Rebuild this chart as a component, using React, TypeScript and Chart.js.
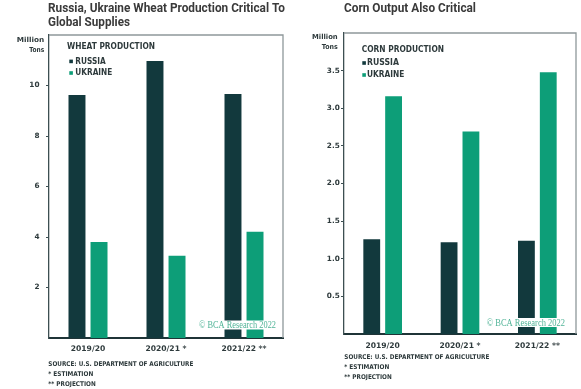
import React, { useEffect, useRef } from "react";
import { Chart, registerables } from "chart.js";

Chart.register(...registerables);

const categories = ["2019/20", "2020/21 *", "2021/22 **"];
const wheatRussia = [9.62, 10.97, 9.66];
const wheatUkraine = [3.8, 3.26, 4.21];
const cornRussia = [1.26, 1.22, 1.24];
const cornUkraine = [3.16, 2.69, 3.48];
const seriesNames = ["RUSSIA", "UKRAINE"];
const sourceLines = ["SOURCE: U.S. DEPARTMENT OF AGRICULTURE", "* ESTIMATION", "** PROJECTION"];
const watermark = "© BCA Research 2022";

const RUSSIA = "#12393d";
const UKRAINE = "#0d9e78";
const TEXT = "#2e3a3c";
const SANS = "'DejaVu Sans'";

type TextItem = { s: string; x: number; y: number; w: number; font: string; color: string; align?: "left" | "right" };

function fitText(ctx: CanvasRenderingContext2D, it: TextItem) {
  ctx.save();
  ctx.font = it.font;
  ctx.fillStyle = it.color;
  ctx.textBaseline = "alphabetic";
  ctx.textAlign = "left";
  const m = ctx.measureText(it.s).width;
  const k = it.w / m;
  const x0 = it.align === "right" ? it.x - it.w : it.x;
  ctx.translate(x0, it.y);
  ctx.scale(k, 1);
  ctx.fillText(it.s, 0, 0);
  ctx.restore();
}

type Deco = {
  texts: TextItem[];
  markers: { x: number; y: number; c: string }[];
  wm: { x: number; y: number; w: number; box: [number, number, number, number] };
};

function makePlugin(d: Deco) {
  return {
    id: "deco",
    afterDatasetsDraw(chart: any) {
      const ctx = chart.ctx as CanvasRenderingContext2D;
      const a = chart.chartArea;
      ctx.save();
      ctx.fillStyle = "#ffffff";
      ctx.fillRect(d.wm.box[0], d.wm.box[1], d.wm.box[2], d.wm.box[3]);
      ctx.restore();
      fitText(ctx, { s: watermark, x: d.wm.x, y: d.wm.y, w: d.wm.w, font: "9.5px 'Liberation Serif'", color: "#4fb396" });
      ctx.save();
      ctx.strokeStyle = "#8e989a";
      ctx.lineWidth = 1.3;
      ctx.beginPath();
      ctx.moveTo(a.left, a.top);
      ctx.lineTo(a.right, a.top);
      ctx.lineTo(a.right, a.bottom);
      ctx.stroke();
      ctx.restore();
    },
    afterDraw(chart: any) {
      const ctx = chart.ctx as CanvasRenderingContext2D;
      d.texts.forEach((t) => fitText(ctx, t));
      d.markers.forEach((m) => {
        ctx.fillStyle = m.c;
        ctx.fillRect(m.x, m.y, 3.6, 3.6);
      });
    },
  };
}

function makeChart(
  canvas: HTMLCanvasElement,
  russia: number[],
  ukraine: number[],
  max: number,
  step: number,
  decimals: number,
  pad: { left: number; right: number; top: number; bottom: number },
  yLabelPad: number,
  xLabelPad: number,
  deco: Deco
) {
  return new Chart(canvas, {
    type: "bar",
    data: {
      labels: categories,
      datasets: [
        { label: seriesNames[0], data: russia, backgroundColor: RUSSIA, categoryPercentage: 0.565, barPercentage: 0.77 },
        { label: seriesNames[1], data: ukraine, backgroundColor: UKRAINE, categoryPercentage: 0.565, barPercentage: 0.77 },
      ],
    },
    options: {
      animation: false,
      responsive: false,
      maintainAspectRatio: false,
      events: [],
      layout: { padding: pad },
      plugins: { legend: { display: false }, tooltip: { enabled: false }, title: { display: false } },
      scales: {
        x: {
          grid: { display: false, drawTicks: false },
          border: { display: true, color: "#1f3437", width: 2 },
          ticks: { color: TEXT, font: { family: SANS, size: 7.6, weight: "bold" }, padding: xLabelPad, maxRotation: 0 },
          afterFit: (s: any) => { s.height = 20; },
        },
        y: {
          min: 0,
          max,
          grid: { display: true, drawOnChartArea: false, drawTicks: true, tickLength: 3, color: "#3d4f52", lineWidth: 1 },
          border: { display: true, color: "#3d4f52", width: 1.3 },
          ticks: {
            stepSize: step,
            color: TEXT,
            font: { family: SANS, size: 7.3, weight: "bold" },
            padding: yLabelPad,
            callback: (v: any) => (v <= 0 || v >= max ? null : Number(v).toFixed(decimals)),
          },
          afterFit: (s: any) => { s.width = 30; },
        },
      },
    },
    plugins: [makePlugin(deco)],
  } as any);
}

const B = (size: number) => `bold ${size}px ${SANS}`;

const leftDeco: Deco = {
  texts: [
    { s: "Russia, Ukraine Wheat Production Critical To", x: 48, y: 12, w: 237, font: "bold 13px Roboto", color: "#3a3a3a" },
    { s: "Global Supplies", x: 48, y: 26, w: 82, font: "bold 13px Roboto", color: "#3a3a3a" },
    { s: "Million", x: 44.3, y: 41.5, w: 27.5, font: B(7), color: TEXT, align: "right" },
    { s: "Tons", x: 44.3, y: 51.5, w: 15, font: B(7), color: TEXT, align: "right" },
    { s: "WHEAT PRODUCTION", x: 67, y: 48.5, w: 88, font: B(8), color: TEXT },
    { s: seriesNames[0], x: 75.3, y: 63.5, w: 30.4, font: B(8), color: TEXT },
    { s: seriesNames[1], x: 75.3, y: 75, w: 37, font: B(8), color: TEXT },
    { s: sourceLines[0], x: 48.3, y: 366, w: 145, font: B(6.5), color: TEXT },
    { s: sourceLines[1], x: 48.3, y: 376, w: 45, font: B(6.5), color: TEXT },
    { s: sourceLines[2], x: 48.3, y: 386, w: 47.5, font: B(6.5), color: TEXT },
  ],
  markers: [
    { x: 69.3, y: 59.6, c: RUSSIA },
    { x: 69.3, y: 71.2, c: UKRAINE },
  ],
  wm: { x: 199, y: 328, w: 77, box: [196, 320.5, 86, 9] },
};

const rightDeco: Deco = {
  texts: [
    { s: "Corn Output Also Critical", x: 54, y: 12, w: 132, font: "bold 13px Roboto", color: "#3a3a3a" },
    { s: "Million", x: 47.7, y: 39.3, w: 25.7, font: B(7), color: TEXT, align: "right" },
    { s: "Tons", x: 47.7, y: 49.3, w: 16, font: B(7), color: TEXT, align: "right" },
    { s: "CORN PRODUCTION", x: 71.7, y: 52, w: 82.3, font: B(8), color: TEXT },
    { s: seriesNames[0], x: 77, y: 65, w: 32, font: B(8), color: TEXT },
    { s: seriesNames[1], x: 77, y: 77, w: 37.3, font: B(8), color: TEXT },
    { s: sourceLines[0], x: 54.3, y: 359.3, w: 145, font: B(6.5), color: TEXT },
    { s: sourceLines[1], x: 54.3, y: 369.3, w: 45, font: B(6.5), color: TEXT },
    { s: sourceLines[2], x: 54.3, y: 379.3, w: 47.5, font: B(6.5), color: TEXT },
  ],
  markers: [
    { x: 72.3, y: 61.2, c: RUSSIA },
    { x: 72.3, y: 73.2, c: UKRAINE },
  ],
  wm: { x: 196.7, y: 326.3, w: 78.3, box: [193, 318, 92, 9] },
};

export default function App() {
  const leftRef = useRef<HTMLCanvasElement>(null);
  const rightRef = useRef<HTMLCanvasElement>(null);

  useEffect(() => {
    const c1 = makeChart(leftRef.current!, wheatRussia, wheatUkraine, 12, 2, 0,
      { left: 19, right: 7, top: 35, bottom: 31 }, 6.5, 6, leftDeco);
    const c2 = makeChart(rightRef.current!, cornRussia, cornUkraine, 4, 0.5, 1,
      { left: 24, right: 5, top: 33, bottom: 35 }, 1.2, 7.5, rightDeco);
    return () => { c1.destroy(); c2.destroy(); };
  }, []);

  return (
    <div style={{ position: "absolute", left: 0, top: 0, width: 581, height: 389, background: "#fff" }}>
      <canvas ref={leftRef} width={290} height={389} style={{ position: "absolute", left: 0, top: 0, width: 290, height: 389 }} />
      <canvas ref={rightRef} width={291} height={389} style={{ position: "absolute", left: 290, top: 0, width: 291, height: 389 }} />
    </div>
  );
}
